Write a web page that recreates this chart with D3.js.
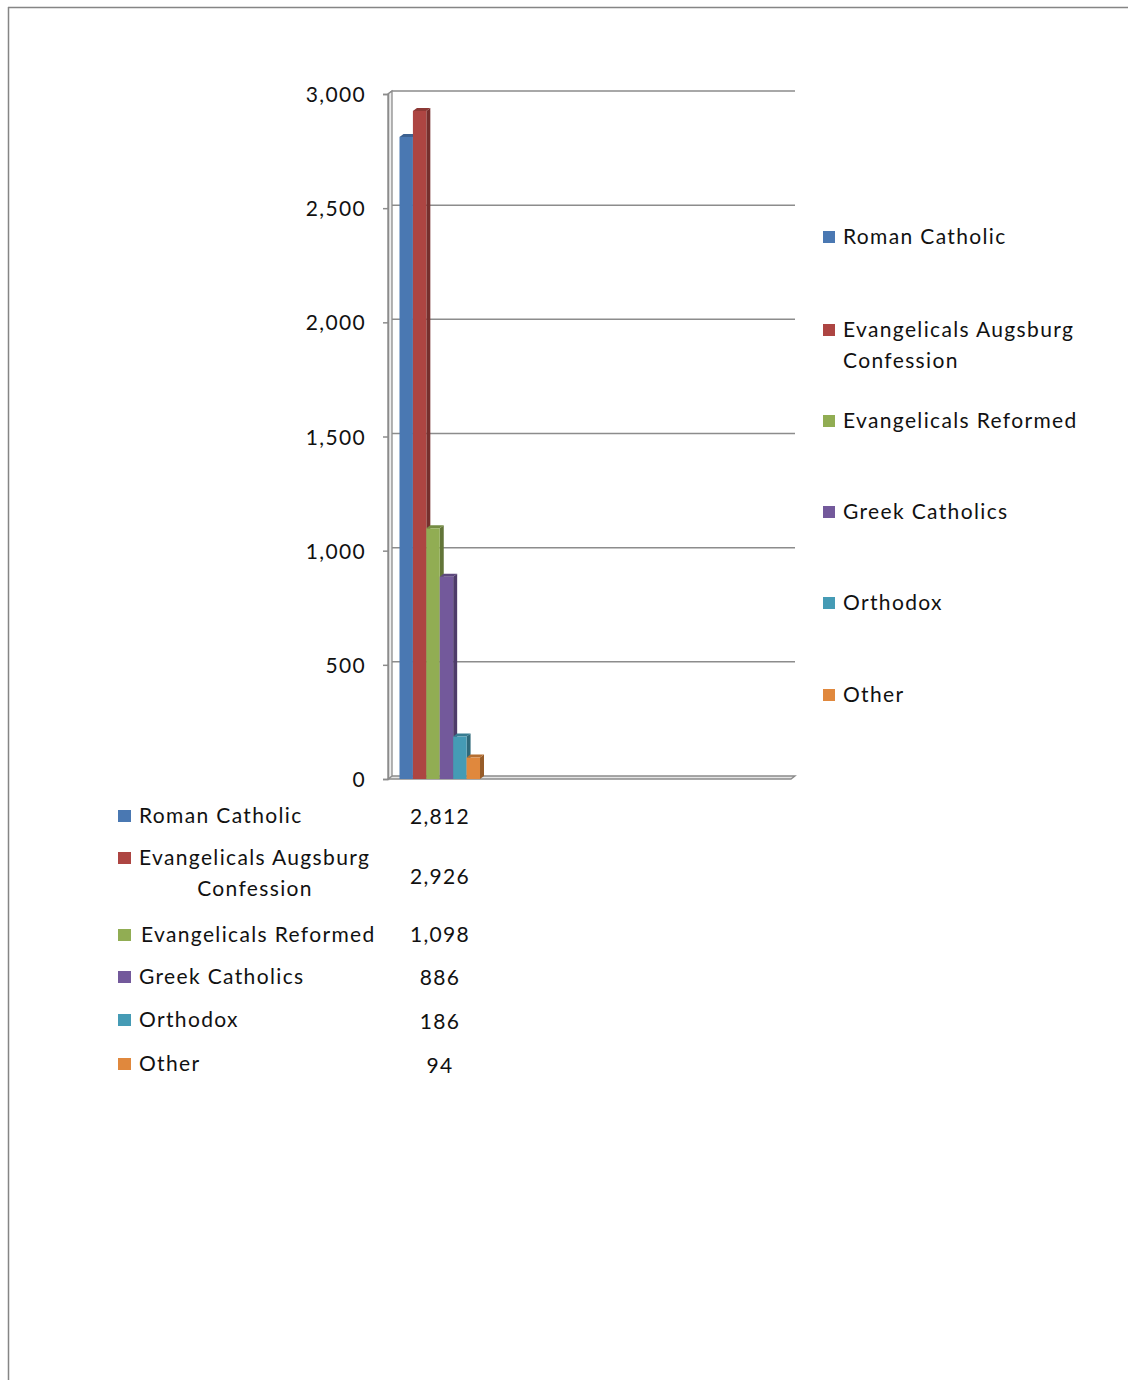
<!DOCTYPE html>
<html>
<head>
<meta charset="utf-8">
<script src="https://cdn.jsdelivr.net/npm/d3@7"></script>
<style>
  html, body { margin: 0; padding: 0; background: #fff; }
  svg { display: block; }
  text { font-family: Lato, "Open Sans", sans-serif; fill: #111; letter-spacing: 1.35px; }
</style>
</head>
<body>
<div id="chart"></div>
<script>
// ---- data ----
const categories = ["Roman Catholic", "Evangelicals Augsburg Confession", "Evangelicals Reformed", "Greek Catholics", "Orthodox", "Other"];
const values = [2812, 2926, 1098, 886, 186, 94];
const valueLabels = ["2,812", "2,926", "1,098", "886", "186", "94"];
const legendLines = [["Roman Catholic"], ["Evangelicals Augsburg", "Confession"], ["Evangelicals Reformed"], ["Greek Catholics"], ["Orthodox"], ["Other"]];
const yTicks = [0, 500, 1000, 1500, 2000, 2500, 3000];
const colors = ["#4a78b2", "#ad4542", "#91ad53", "#73599b", "#459bb5", "#e0883d"];

const W = 1128, H = 1380;
const svg = d3.select("#chart").append("svg").attr("width", W).attr("height", H);

// frame
svg.append("line").attr("x1", 8).attr("x2", W).attr("y1", 7.5).attr("y2", 7.5).attr("stroke", "#858585").attr("stroke-width", 1.5);
svg.append("line").attr("x1", 8.5).attr("x2", 8.5).attr("y1", 7).attr("y2", H).attr("stroke", "#858585").attr("stroke-width", 1.5);

// scales
const dx = 4, dy = 3;
const axisX = 388, plotRight = 791;
const y = d3.scaleLinear().domain([0, 3000]).range([779, 94]);
const x = d3.scaleBand().domain(categories).range([399.5, 480]).padding(0);

const fmt = d3.format(",");

// back wall gridlines
const grid = svg.append("g");
yTicks.forEach(t => {
  const yy = y(t);
  if (t === 0) return;
  grid.append("path")
    .attr("d", `M${axisX},${yy} L${axisX + dx},${yy - dy} L${plotRight + dx},${yy - dy}`)
    .attr("fill", "none").attr("stroke", "#8c8c8c").attr("stroke-width", 1.5);
});

// floor
svg.append("path")
  .attr("d", `M${axisX},${y(0)} L${axisX + dx},${y(0) - dy} L${plotRight + dx},${y(0) - dy} L${plotRight},${y(0)} Z`)
  .attr("fill", "#e4e4e4").attr("stroke", "#8c8c8c").attr("stroke-width", 1.3);

// side wall
svg.append("path")
  .attr("d", `M${axisX},${y(0)} L${axisX},${y(3000)} L${axisX + dx},${y(3000) - dy} L${axisX + dx},${y(0) - dy} Z`)
  .attr("fill", "#eeeeee").attr("stroke", "#8c8c8c").attr("stroke-width", 1.3);

// y axis with ticks
const yAxis = d3.axisLeft(y).tickValues(yTicks).tickSize(5).tickPadding(17).tickFormat(fmt);
const ga = svg.append("g").attr("transform", `translate(${axisX},0)`).call(yAxis);
ga.select(".domain").attr("stroke", "#8c8c8c").attr("stroke-width", 1.5);
ga.selectAll(".tick line").attr("stroke", "#8c8c8c").attr("stroke-width", 1.5);
ga.selectAll(".tick text").attr("font-size", 21).attr("font-family", "Lato, sans-serif").attr("fill", "#111").attr("dy", "0.36em");

// 3D bars
const bars = svg.append("g");
categories.forEach((c, i) => {
  const x0 = x(c), x1 = x(c) + x.bandwidth();
  const yt = y(values[i]), yb = y(0);
  const col = d3.color(colors[i]);
  const g = bars.append("g");
  g.append("path")
    .attr("d", `M${x1},${yt} L${x1 + dx},${yt - dy} L${x1 + dx},${yb - dy} L${x1},${yb} Z`)
    .attr("fill", col.darker(1.1));
  g.append("path")
    .attr("d", `M${x0},${yt} L${x0 + dx},${yt - dy} L${x1 + dx},${yt - dy} L${x1},${yt} Z`)
    .attr("fill", col.darker(0.6));
  g.append("rect")
    .attr("x", x0).attr("y", yt).attr("width", x1 - x0).attr("height", yb - yt)
    .attr("fill", col);
});

// right legend
const legY = [237, 330, 421, 512, 603, 695];
const leg = svg.append("g");
categories.forEach((c, i) => {
  leg.append("rect").attr("x", 823).attr("y", legY[i] - 6).attr("width", 12).attr("height", 12).attr("fill", colors[i]);
  legendLines[i].forEach((ln, j) => {
    leg.append("text").attr("x", 843).attr("y", legY[i] + j * 31).attr("dy", "0.35em")
      .attr("font-size", 21).text(ln);
  });
});

// data table
const rowY = [816, 858, 935, 977, 1020, 1064];
const valY = [817, 877, 935, 978, 1022, 1066];
const tbl = svg.append("g");
categories.forEach((c, i) => {
  tbl.append("rect").attr("x", 118).attr("y", rowY[i] - 6).attr("width", 13).attr("height", 12).attr("fill", colors[i]);
  legendLines[i].forEach((ln, j) => {
    const t = tbl.append("text").attr("y", rowY[i] + j * 31).attr("dy", "0.35em").attr("font-size", 21).text(ln);
    if (j === 0) t.attr("x", i === 2 ? 141 : 139); else t.attr("x", 255).attr("text-anchor", "middle");
  });
  tbl.append("text").attr("x", 440).attr("y", valY[i]).attr("dy", "0.35em")
    .attr("text-anchor", "middle").attr("font-size", 21).text(valueLabels[i]);
});
</script>
</body>
</html>
